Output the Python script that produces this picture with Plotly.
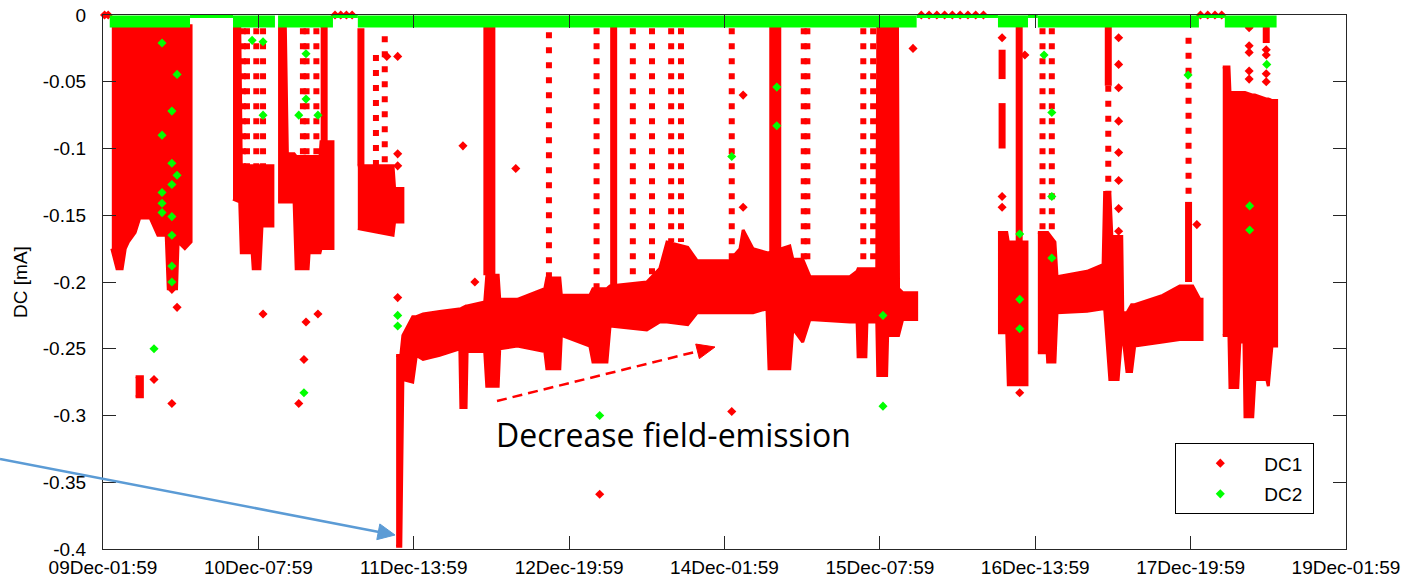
import plotly.graph_objects as go

# ---------------- axes ----------------
# x values are hours elapsed since 09Dec-01:59
X_TICK_VALS = [0, 30, 60, 90, 120, 150, 180, 210, 240]
X_TICK_TEXT = ["09Dec-01:59", "10Dec-07:59", "11Dec-13:59", "12Dec-19:59", "14Dec-01:59",
               "15Dec-07:59", "16Dec-13:59", "17Dec-19:59", "19Dec-01:59"]
Y_TICK_VALS = [0, -0.05, -0.1, -0.15, -0.2, -0.25, -0.3, -0.35, -0.4]
Y_TICK_TEXT = ["0", "-0.05", "-0.1", "-0.15", "-0.2", "-0.25", "-0.3", "-0.35", "-0.4"]

# ---------------- DC1 dense bands (time, upper edge, lower edge) ----------------
seg_a_t = [1.7, 2.7, 3.7, 4.3, 4.9, 6.2, 7.1, 9.1, 10.0, 10.6, 12.2, 12.6, 14.2, 14.5, 15.8, 17.0]
seg_a_hi = [-0.008, -0.008, -0.008, -0.008, -0.008, -0.008, -0.008, -0.008, -0.008, -0.008,
            -0.008, -0.008, -0.008, -0.008, -0.008, -0.008]
seg_a_lo = [-0.175, -0.19, -0.19, -0.175, -0.17, -0.163, -0.152, -0.152, -0.16, -0.165,
            -0.165, -0.205, -0.205, -0.17, -0.175, -0.17]

seg_blob_t = [6.3, 7.6]
seg_blob_hi = [-0.271, -0.271]
seg_blob_lo = [-0.286, -0.286]

seg_b_t = [25.1, 26.4, 26.7, 28.8, 29.0, 30.3, 30.7, 32.8]
seg_b_hi = [-0.008, -0.008, -0.113, -0.113, -0.113, -0.113, -0.113, -0.113]
seg_b_lo = [-0.138, -0.14, -0.178, -0.178, -0.19, -0.19, -0.158, -0.158]

seg_c_t = [33.8, 35.2, 35.6, 36.9, 37.3, 39.6, 39.8, 41.9, 42.1, 44.4]
seg_c_hi = [-0.008, -0.008, -0.104, -0.104, -0.106, -0.106, -0.106, -0.106, -0.095, -0.095]
seg_c_lo = [-0.14, -0.14, -0.14, -0.14, -0.19, -0.19, -0.178, -0.178, -0.175, -0.175]

seg_d_t = [49.2, 56.0, 56.3, 57.9]
seg_d_hi = [-0.113, -0.113, -0.13, -0.13]
seg_d_lo = [-0.16, -0.165, -0.155, -0.155]

seg_e_t = [56.6, 57.5, 57.9, 59.8, 60.5, 61.8, 65.0, 68.9, 69.1, 70.1,
           70.3, 73.7, 74.1, 76.3, 76.6, 80.0, 85.3, 85.7, 88.2, 88.5,
           94.0, 94.6, 97.3, 97.9, 105.0, 107.5, 108.9, 112.9, 114.7, 121.0,
           123.0, 123.6, 125.5, 128.2, 128.6, 132.6, 133.2, 135.1, 136.5, 144.2,
           145.6, 145.8, 147.3, 147.5, 149.4, 149.6, 151.3, 151.5, 153.4, 153.6,
           154.4, 157.1]
seg_e_hi = [-0.255, -0.255, -0.24, -0.226, -0.226, -0.224, -0.222, -0.22, -0.22, -0.218,
            -0.218, -0.215, -0.195, -0.195, -0.213, -0.213, -0.205, -0.197, -0.197, -0.21,
            -0.21, -0.205, -0.205, -0.203, -0.2, -0.19, -0.17, -0.174, -0.184, -0.184,
            -0.175, -0.161, -0.175, -0.178, -0.178, -0.173, -0.183, -0.183, -0.196, -0.196,
            -0.192, -0.19, -0.19, -0.19, -0.19, -0.01, -0.01, -0.01, -0.01, -0.205,
            -0.208, -0.208]
seg_e_lo = [-0.398, -0.398, -0.273, -0.275, -0.255, -0.258, -0.255, -0.25, -0.294, -0.294,
            -0.252, -0.252, -0.278, -0.278, -0.25, -0.248, -0.252, -0.265, -0.265, -0.24,
            -0.248, -0.26, -0.26, -0.233, -0.236, -0.23, -0.23, -0.232, -0.223, -0.223,
            -0.223, -0.223, -0.223, -0.22, -0.265, -0.265, -0.235, -0.245, -0.228, -0.23,
            -0.23, -0.256, -0.256, -0.23, -0.23, -0.27, -0.27, -0.24, -0.24, -0.24,
            -0.228, -0.228]

seg_f_t = [172.8, 174.5, 174.8, 178.4]
seg_f_hi = [-0.163, -0.163, -0.17, -0.17]
seg_f_lo = [-0.238, -0.238, -0.277, -0.277]

seg_g_t = [180.5, 182.3, 182.4, 183.8, 184.2, 190.0, 193.1, 193.4, 194.4, 194.8, 196.0,
           196.7, 196.9, 197.7, 198.6, 199.2, 204.6, 207.9, 210.4, 211.8, 212.2]
seg_g_hi = [-0.163, -0.163, -0.163, -0.17, -0.196, -0.192, -0.187, -0.133, -0.133, -0.166, -0.166,
            -0.166, -0.223, -0.223, -0.217, -0.217, -0.21, -0.203, -0.203, -0.213, -0.213]
seg_g_lo = [-0.253, -0.253, -0.26, -0.26, -0.223, -0.222, -0.22, -0.22, -0.273, -0.273, -0.273,
            -0.24, -0.24, -0.267, -0.267, -0.248, -0.245, -0.243, -0.243, -0.243, -0.243]

seg_h_t = [216.2, 217.4, 217.6, 219.1, 219.5, 220.3, 220.5, 222.0, 222.4, 224.7, 225.0, 225.7, 226.6]
seg_h_hi = [-0.039, -0.039, -0.058, -0.058, -0.058, -0.058, -0.058, -0.06, -0.06, -0.063, -0.063,
            -0.064, -0.064]
seg_h_lo = [-0.24, -0.24, -0.279, -0.279, -0.245, -0.245, -0.301, -0.301, -0.273, -0.273, -0.278,
            -0.248, -0.248]

# ---------------- DC1 vertical excursions ----------------
spk_dense_t = [42.7, 49.8, 98.6, 173.6, 173.6, 176.9, 194.1, 209.6, 224.6]
spk_dense_top = [-0.008, -0.01, -0.008, -0.026, -0.066, -0.006, -0.005, -0.14, -0.006]
spk_dense_bot = [-0.095, -0.113, -0.203, -0.048, -0.1, -0.17, -0.053, -0.2, -0.021]

spk_wide_t = [74.6, 129.8]
spk_wide_top = [-0.008, -0.006]
spk_wide_bot = [-0.195, -0.178]

spk_sparse_t = [27.0, 27.8, 29.6, 30.9, 38.6, 39.3, 41.2, 52.7, 54.4,
                86.1, 95.3, 102.3, 106.0, 109.7, 111.6, 121.4, 135.3, 136.0, 146.8,
                148.7, 181.4, 183.2, 194.1, 209.6]
spk_sparse_top = [-0.01, -0.01, -0.01, -0.01, -0.01, -0.01, -0.01, -0.03, -0.016,
                  -0.013, -0.01, -0.01, -0.01, -0.01, -0.01, -0.01, -0.01, -0.01, -0.01,
                  -0.01, -0.01, -0.01, -0.053, -0.017]
spk_sparse_bot = [-0.113, -0.113, -0.113, -0.113, -0.105, -0.105, -0.105, -0.113, -0.113,
                  -0.205, -0.205, -0.203, -0.2, -0.17, -0.17, -0.184, -0.183, -0.183, -0.19,
                  -0.19, -0.163, -0.163, -0.133, -0.14]

# ---------------- DC1 isolated samples ----------------
dc1_pts_t = [9.85, 13.3, 14.3, 13.3, 30.9, 39.2, 41.5, 38.8, 37.8, 56.9,
             54.8, 56.9, 56.9, 56.9, 69.5, 79.7, 71.8, 123.6, 123.6, 95.9,
             121.4, 156.4, 155.2, 178.0, 177.0, 211.2, 173.6, 173.6, 173.6,
             196.1, 196.1, 196.1, 196.1, 196.1, 196.1, 196.1, 196.1,
             221.3, 221.3, 221.3, 221.3, 221.3, 224.6, 224.6, 224.6, 224.6,
             0.3, 1.0, 44.8, 45.9, 47.0, 48.1, 158.0, 159.5, 161.0, 162.5, 164.0,
             165.5, 167.0, 168.5, 170.0, 211.9, 213.3, 214.7, 216.0]
dc1_pts_v = [-0.273, -0.291, -0.219, -0.2055, -0.224, -0.23, -0.224, -0.258, -0.291, -0.2117,
             -0.031, -0.031, -0.104, -0.113, -0.098, -0.115, -0.2, -0.06, -0.144, -0.359,
             -0.297, -0.025, -0.213, -0.03, -0.283, -0.157, -0.017, -0.136, -0.144,
             -0.017, -0.037, -0.0545, -0.0795, -0.103, -0.124, -0.145, -0.162,
             -0.0096, -0.023, -0.028, -0.042, -0.048, -0.026, -0.03, -0.044, -0.05,
             0.0, 0.0, 0.0, 0.0, 0.0, 0.0, 0.0, 0.0, 0.0, 0.0, 0.0,
             0.0, 0.0, 0.0, 0.0, 0.0, 0.0, 0.0, 0.0]

# ---------------- DC2 ----------------
dc2_band_start = [1.3, 25.1, 33.8, 49.2, 172.8, 180.5, 216.6]
dc2_band_end = [16.8, 33.2, 44.4, 157.1, 178.6, 211.6, 226.6]
dc2_band_level = [-0.0048, -0.0048, -0.0048, -0.0048, -0.0048, -0.0048, -0.0048]
dc2_zero_start = [16.8, 44.4, 157.1, 178.6, 211.6]
dc2_zero_end = [25.1, 49.2, 172.8, 180.5, 216.6]
dc2_zero_level = [0.0, 0.0, 0.0, 0.0, 0.0]

dc2_pts_t = [11.4, 11.4, 11.4, 11.4, 11.4, 14.3, 14.3, 13.3, 13.3, 13.3, 13.3, 13.3, 13.3, 13.3,
             9.85, 28.8, 30.9, 30.9, 39.2, 39.2, 37.8, 41.5, 38.8, 56.9, 56.9, 95.9,
             130.1, 130.1, 121.4, 150.6, 150.6, 181.7, 183.2, 183.2, 183.2, 177.0, 177.0, 177.0,
             209.5, 221.4, 221.4, 224.7]
dc2_pts_v = [-0.021, -0.09, -0.133, -0.141, -0.148, -0.0445, -0.12, -0.072, -0.111, -0.127,
             -0.151, -0.165, -0.188, -0.2,
             -0.25, -0.019, -0.02, -0.075, -0.029, -0.063, -0.075, -0.075, -0.283, -0.225, -0.233,
             -0.3, -0.054, -0.083, -0.106, -0.225, -0.293, -0.03, -0.073, -0.136, -0.182, -0.164,
             -0.213, -0.235, -0.045, -0.143, -0.161, -0.037]

RED = "#FF0000"
GREEN = "#00FF00"
AXIS = "#262626"
FONT = "Liberation Sans, Arial, sans-serif"


def band_polygons(segments):
    xs, ys = [], []
    for t, hi, lo in segments:
        xs += list(t) + list(reversed(t)) + [None]
        ys += list(hi) + list(reversed(lo)) + [None]
    return xs, ys


def vertical_runs(t, top, bot):
    xs, ys = [], []
    for a, b, c in zip(t, top, bot):
        xs += [a, a, None]
        ys += [b, c, None]
    return xs, ys


def horizontal_runs(start, end, level):
    xs, ys = [], []
    for a, b, c in zip(start, end, level):
        xs += [a, b, None]
        ys += [c, c, None]
    return xs, ys


fig = go.Figure()

bx, by = band_polygons([
    (seg_a_t, seg_a_hi, seg_a_lo), (seg_blob_t, seg_blob_hi, seg_blob_lo),
    (seg_b_t, seg_b_hi, seg_b_lo), (seg_c_t, seg_c_hi, seg_c_lo),
    (seg_d_t, seg_d_hi, seg_d_lo), (seg_e_t, seg_e_hi, seg_e_lo),
    (seg_f_t, seg_f_hi, seg_f_lo), (seg_g_t, seg_g_hi, seg_g_lo),
    (seg_h_t, seg_h_hi, seg_h_lo)])
fig.add_trace(go.Scatter(x=bx, y=by, mode="lines", fill="toself", fillcolor=RED,
                         line=dict(color=RED, width=3), showlegend=False, hoverinfo="skip"))

sx, sy = vertical_runs(spk_sparse_t, spk_sparse_top, spk_sparse_bot)
fig.add_trace(go.Scatter(x=sx, y=sy, mode="lines", line=dict(color=RED, width=6, dash="6px,9px"),
                         showlegend=False, hoverinfo="skip"))
dx, dy = vertical_runs(spk_dense_t, spk_dense_top, spk_dense_bot)
fig.add_trace(go.Scatter(x=dx, y=dy, mode="lines", line=dict(color=RED, width=7),
                         showlegend=False, hoverinfo="skip"))
wx, wy = vertical_runs(spk_wide_t, spk_wide_top, spk_wide_bot)
fig.add_trace(go.Scatter(x=wx, y=wy, mode="lines", line=dict(color=RED, width=12),
                         showlegend=False, hoverinfo="skip"))

fig.add_trace(go.Scatter(x=dc1_pts_t, y=dc1_pts_v, mode="markers", name="DC1\u00a0",
                         legendgroup="dc1", cliponaxis=False,
                         marker=dict(symbol="diamond", size=7, color=RED)))

gx, gy = horizontal_runs(dc2_band_start, dc2_band_end, dc2_band_level)
fig.add_trace(go.Scatter(x=gx, y=gy, mode="lines", line=dict(color=GREEN, width=12),
                         showlegend=False, hoverinfo="skip"))
zx, zy = horizontal_runs(dc2_zero_start, dc2_zero_end, dc2_zero_level)
fig.add_trace(go.Scatter(x=zx, y=zy, mode="lines", line=dict(color=GREEN, width=6),
                         showlegend=False, hoverinfo="skip"))
fig.add_trace(go.Scatter(x=dc2_pts_t, y=dc2_pts_v, mode="markers", name="DC2\u00a0",
                         legendgroup="dc2", cliponaxis=False,
                         marker=dict(symbol="diamond", size=7, color=GREEN)))

# ---------------- annotation geometry (pixel based) ----------------
L, R, T, B = 103, 1346, 15, 549


def paper(px, py):
    return (px - L) / (R - L), (B - py) / (B - T)


def arrow_shapes(x0, y0, x1, y1, color, head_len, head_half, dash=None):
    dxp, dyp = x1 - x0, y1 - y0
    n = (dxp ** 2 + dyp ** 2) ** 0.5
    ux, uy = dxp / n, dyp / n
    bxp, byp = x1 - ux * head_len, y1 - uy * head_len
    p0 = paper(x0, y0)
    pb = paper(bxp + ux * 2, byp + uy * 2)
    line = dict(type="line", xref="paper", yref="paper", x0=p0[0], y0=p0[1], x1=pb[0], y1=pb[1],
                line=dict(color=color, width=2.5, dash=dash) if dash else dict(color=color, width=2.5))
    a = paper(x1, y1)
    b1 = paper(bxp - uy * head_half, byp + ux * head_half)
    b2 = paper(bxp + uy * head_half, byp - ux * head_half)
    head = dict(type="path", xref="paper", yref="paper",
                path=f"M{a[0]},{a[1]} L{b1[0]},{b1[1]} L{b2[0]},{b2[1]} Z",
                fillcolor=color, line=dict(color=color, width=1))
    return [line, head]


shapes = []
shapes += arrow_shapes(0, 459, 395, 535, "#5B9BD5", 17, 8)
shapes += arrow_shapes(497, 401, 715, 347, RED, 18, 7.5, dash="10px,6px")

tx, ty = paper(494, 434)

fig.update_layout(
    width=1411, height=580,
    margin=dict(l=L, r=1411 - R, t=T, b=580 - B),
    paper_bgcolor="white", plot_bgcolor="white",
    font=dict(family=FONT, size=19, color="#000000"),
    shapes=shapes,
    annotations=[dict(text="Decrease field-emission", xref="paper", yref="paper", x=tx, y=ty,
                      xanchor="left", yanchor="middle", showarrow=False,
                      font=dict(family="Open Sans, sans-serif", size=32, color="#000000"))],
    xaxis=dict(range=[0, 240], tickvals=X_TICK_VALS, ticktext=X_TICK_TEXT, ticks="inside",
               ticklen=13, tickwidth=1.3, tickcolor=AXIS, showline=True, linecolor=AXIS,
               linewidth=1.3, mirror="ticks", showgrid=False, zeroline=False, automargin=False,
               ticklabelstandoff=1,
               tickfont=dict(family=FONT, size=19, color="#000000")),
    yaxis=dict(range=[-0.4, 0], tickvals=Y_TICK_VALS, ticktext=Y_TICK_TEXT, ticks="inside",
               ticklen=13, tickwidth=1.3, tickcolor=AXIS, showline=True, linecolor=AXIS,
               linewidth=1.3, mirror="ticks", showgrid=False, zeroline=False, automargin=False,
               ticklabelstandoff=12,
               tickfont=dict(family=FONT, size=19, color="#000000"),
               title=dict(text="DC [mA]", standoff=10, font=dict(family=FONT, size=19, color="#000000"))),
    legend=dict(x=(1175 - L) / (R - L), y=(B - 443) / (B - T), xanchor="left", yanchor="top",
                bgcolor="white", bordercolor="#000000", borderwidth=1.3, itemwidth=78,
                tracegroupgap=3,
                font=dict(family=FONT, size=19, color="#000000")),
    showlegend=True,
)

fig.write_html("out.html")
